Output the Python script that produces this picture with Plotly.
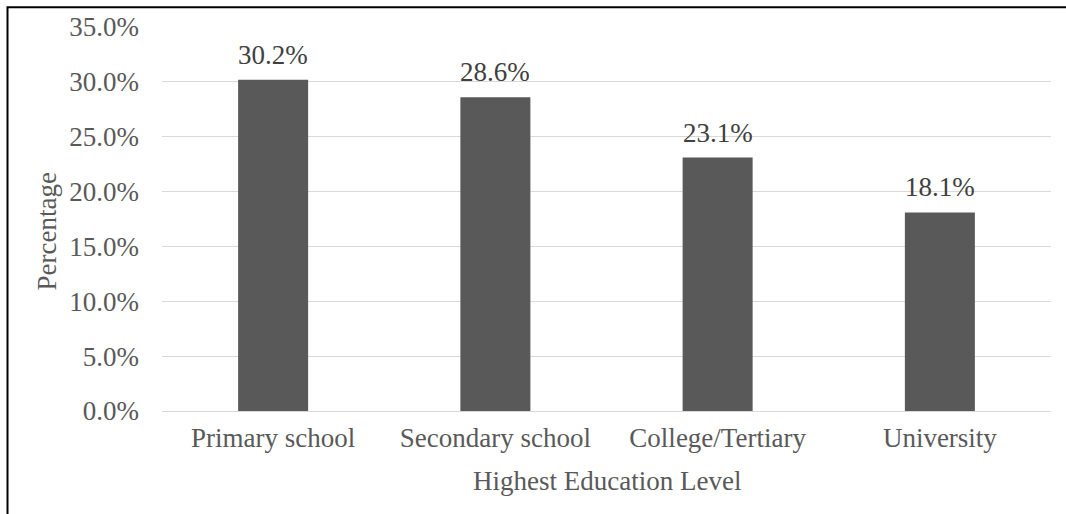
import plotly.graph_objects as go

# Education level shares
categories = ["Primary school", "Secondary school", "College/Tertiary", "University"]
percentages = [30.2, 28.6, 23.1, 18.1]
y_ticks = [0, 5, 10, 15, 20, 25, 30, 35]
y_tick_labels = [f"{v:.1f}%" for v in y_ticks]

W, H = 1066, 514
ML, MR, MT, MB = 162, 15, 24, 103
PW, PH = W - ML - MR, H - MT - MB

def px_x(x):
    return (x - ML) / PW

def px_y(y):
    return 1 - (y - MT) / PH

FONT = "Liberation Serif, Times New Roman, serif"
FS = 27

fig = go.Figure(
    go.Bar(
        x=categories,
        y=percentages,
        marker=dict(color="#595959", line=dict(width=0)),
        width=0.315,
        hoverinfo="x+y",
    )
)

# value labels above each bar
value_labels = [
    dict(
        x=c, y=v, xref="x", yref="y",
        text=f"{v:.1f}%",
        showarrow=False,
        xanchor="center", yanchor="bottom",
        yshift=8,
        font=dict(family=FONT, size=FS, color="#404040"),
    )
    for c, v in zip(categories, percentages)
]

fig.update_layout(
    width=W,
    height=H,
    margin=dict(l=ML, r=MR, t=MT, b=MB),
    paper_bgcolor="white",
    plot_bgcolor="white",
    showlegend=False,
    font=dict(family=FONT, size=FS, color="#595959"),
    xaxis=dict(
        showgrid=False,
        showline=False,
        ticks="",
        tickfont=dict(family=FONT, size=FS, color="#595959"),
        ticklabelstandoff=8,
    ),
    yaxis=dict(
        range=[0, 35],
        tickvals=y_ticks,
        ticktext=y_tick_labels,
        showgrid=True,
        gridcolor="#d9d9d9",
        gridwidth=1.3,
        zeroline=True,
        zerolinecolor="#d9d9d9",
        zerolinewidth=1.3,
        showline=False,
        ticks="",
        tickfont=dict(family=FONT, size=FS, color="#595959"),
        ticklabelstandoff=22,
    ),
    annotations=value_labels + [
        dict(
            text="Percentage",
            xref="paper", yref="paper",
            x=px_x(47), y=px_y(230),
            textangle=-90,
            showarrow=False,
            font=dict(family=FONT, size=FS, color="#595959"),
            xanchor="center", yanchor="middle",
        ),
        dict(
            text="Highest Education Level",
            xref="paper", yref="paper",
            x=px_x(607), y=px_y(482),
            showarrow=False,
            font=dict(family=FONT, size=FS, color="#595959"),
            xanchor="center", yanchor="middle",
        ),
    ],
    shapes=[
        dict(
            type="rect",
            xref="paper", yref="paper",
            x0=px_x(7.5), x1=px_x(1075),
            y0=px_y(525), y1=px_y(4),
            line=dict(color="black", width=2),
            fillcolor="rgba(0,0,0,0)",
            layer="above",
        )
    ],
)

fig.write_html("out.html")
